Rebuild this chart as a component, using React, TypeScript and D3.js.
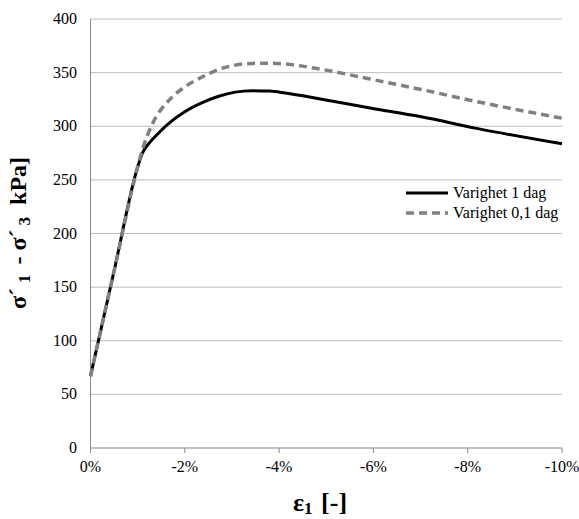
import React from "react";
import * as d3 from "d3";

// strain in % (negative = compression), deviator stress in kPa
const strain1Dag = [0, -0.5, -1.0, -1.1, -1.24, -1.45, -1.7, -2.0, -2.37, -2.72, -3.07, -3.43, -3.8, -4.13, -4.87, -5.93, -6.99, -8.19, -10];
const stress1Dag = [67, 165, 262, 275, 284, 294, 304, 313.5, 322, 328, 331.8, 333.2, 332.8, 331, 325.5, 317, 309, 298, 283.6];

const strain01Dag = [0, -0.5, -1.0, -1.1, -1.31, -1.66, -2.01, -2.37, -2.72, -3.07, -3.43, -3.81, -4.13, -4.87, -5.93, -6.99, -8.19, -10];
const stress01Dag = [67, 165, 262, 278, 302, 324, 337, 346, 353, 357, 358.6, 358.8, 358, 353.3, 344, 334.5, 323, 307.5];

const xTicks = [0, -2, -4, -6, -8, -10];
const yTicks = [0, 50, 100, 150, 200, 250, 300, 350, 400];
const legendLabels = ["Varighet 1 dag", "Varighet 0,1 dag"];

const W = 579;
const H = 519;
const left = 90.5;
const right = 562;
const top = 19;
const bottom = 448;

export default function App() {
  const x = d3.scaleLinear().domain([0, -10]).range([left, right]);
  const y = d3.scaleLinear().domain([0, 400]).range([bottom, top]);
  const line = d3
    .line<[number, number]>()
    .x((d) => x(d[0]))
    .y((d) => y(d[1]))
    .curve(d3.curveMonotoneX);
  const d1 = line(strain1Dag.map((s, i) => [s, stress1Dag[i]] as [number, number]));
  const d2 = line(strain01Dag.map((s, i) => [s, stress01Dag[i]] as [number, number]));
  const font = "'Liberation Serif', 'Times New Roman', serif";

  return (
    <svg width={W} height={H} style={{ position: "absolute", left: 0, top: 0, background: "#fff" }}>
      {yTicks.map((t) =>
        t === 0 ? null : (
          <line key={"g" + t} x1={left} x2={right} y1={y(t)} y2={y(t)} stroke="#bdbdbd" strokeWidth={1} />
        )
      )}
      <line x1={left} x2={left} y1={top} y2={bottom} stroke="#888" strokeWidth={1} />
      <line x1={left} x2={right} y1={bottom} y2={bottom} stroke="#888" strokeWidth={1} />
      {xTicks.map((t) => (
        <line key={"xt" + t} x1={x(t)} x2={x(t)} y1={bottom} y2={bottom + 5} stroke="#888" strokeWidth={1} />
      ))}
      {yTicks.map((t) => (
        <text key={"yl" + t} x={77} y={y(t) + 5} textAnchor="end" style={{ fontFamily: font }} fontSize={16} fill="#000">
          {t}
        </text>
      ))}
      {xTicks.map((t) => (
        <text key={"xl" + t} x={x(t)} y={472} textAnchor="middle" style={{ fontFamily: font }} fontSize={16} fill="#000">
          {t === 0 ? "0%" : `${t}%`}
        </text>
      ))}
      <path d={d1 || ""} fill="none" stroke="#000" strokeWidth={3} />
      <path d={d2 || ""} fill="none" stroke="#808080" strokeWidth={3.5} strokeDasharray="8,5" />
      <line x1={406} x2={448} y1={193} y2={193} stroke="#000" strokeWidth={3} />
      <text x={453} y={198} style={{ fontFamily: font }} fontSize={16} fill="#000">{legendLabels[0]}</text>
      <line x1={406} x2={448} y1={213} y2={213} stroke="#808080" strokeWidth={3.5} strokeDasharray="8,5" />
      <text x={453} y={218} style={{ fontFamily: font }} fontSize={16} fill="#000">{legendLabels[1]}</text>
      <text x={320} y={511} textAnchor="middle" style={{ fontFamily: font }} fontSize={26} fontWeight="bold" fill="#000">
        ε<tspan fontSize={17} dy={3}>1</tspan><tspan dy={-3} dx={2}> [-]</tspan>
      </text>
      <text
        transform={`translate(26,233) rotate(-90)`}
        textAnchor="middle"
        style={{ fontFamily: font }}
        fontSize={24}
        fontWeight="bold"
        fill="#000"
      >
        σ´<tspan fontSize={17} dy={4} dx={5}>1</tspan><tspan dy={-4} dx={4}> - σ´</tspan><tspan fontSize={17} dy={4} dx={4}>3</tspan><tspan dy={-4} dx={6}> kPa]</tspan>
      </text>
    </svg>
  );
}
